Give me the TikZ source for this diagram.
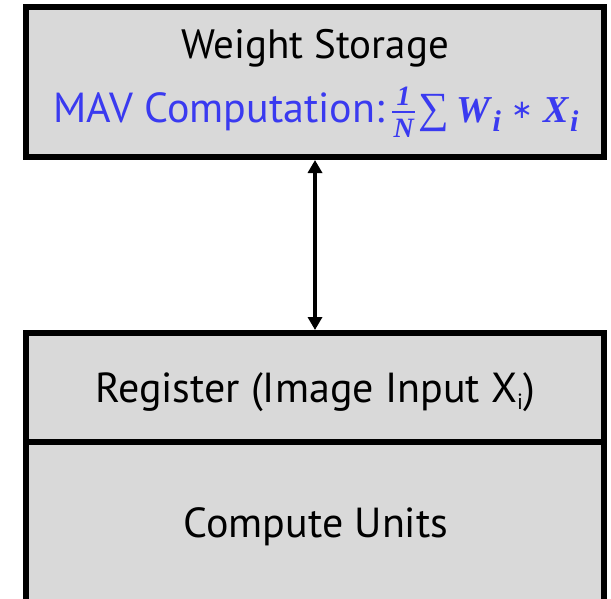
\documentclass[tikz,border=0pt]{standalone}
\usepackage{fontspec}
\setmainfont{PT Sans}
\newfontfamily\mathserif{Liberation Serif}
\newfontfamily\symfont{DejaVu Sans}
\usetikzlibrary{arrows.meta}
\definecolor{boxgray}{RGB}{217,217,217}
\definecolor{mavblue}{RGB}{58,58,240}
\newcommand{\mvar}[2]{\hbox{\fontsize{#1}{#1}\selectfont\mathserif\bfseries\itshape #2}}
\newcommand{\lowsub}[3]{\raisebox{-#1}{\fontsize{#2}{#2}\selectfont #3}}
% stacked fraction 1/N with a heavy bar
\newcommand{\oneovern}{\raisebox{-15pt}{\vbox{%
  \hbox to 23pt{\hss\mvar{28}{1}\hss}\kern5pt
  \hrule height 2pt\kern6pt
  \hbox to 23pt{\hss\mvar{28}{N}\hss}}}}
\begin{document}
\begin{tikzpicture}[x=1pt,y=-1pt,
  block/.style={draw=black,fill=boxgray,line width=6pt},
  label/.style={font=\fontsize{42}{46}\selectfont,inner sep=0pt,anchor=base}]
\useasboundingbox (0,0) rectangle (611,598);
% upper block: weight storage
\draw[block] (26,7) rectangle (604,157);
% lower blocks: register and compute units (running past the bottom edge)
\begin{scope}
\clip (0,0) rectangle (611,598);
\draw[block] (26,333) rectangle (604,442);
\draw[block] (26,442) rectangle (604,630);
\end{scope}
\node[label,font=\fontsize{41}{46}\selectfont] (ws) at (315,58) {Weight Storage};
\node[label,text=mavblue] (mav) at (316,122) {MAV Computation:\hspace{8pt}%
  \oneovern\hspace{3pt}%
  {\mathserif\fontsize{43}{43}\selectfont\symbol{"2211}}\hspace{8pt}%
  \mvar{38}{W}\hspace{2pt}\mvar{30}{\lowsub{9pt}{30}{i}}\hspace{10pt}%
  \raisebox{4pt}{\symfont\fontsize{26}{26}\selectfont\symbol{"2217}}\hspace{11pt}%
  \mvar{38}{X}\hspace{1pt}\mvar{30}{\lowsub{9pt}{30}{i}}};
\node[label] (reg) at (315,402) {Register (Image Input X\lowsub{7pt}{22}{i})};
\node[label] (cu) at (316,537) {Compute Units};
\coordinate (top) at (315,160);
\coordinate (bot) at (315,330);
\draw[line width=4pt,{Triangle[length=13pt,width=14pt]}-{Triangle[length=13pt,width=14pt]}] (top) -- (bot);
\end{tikzpicture}
\end{document}
